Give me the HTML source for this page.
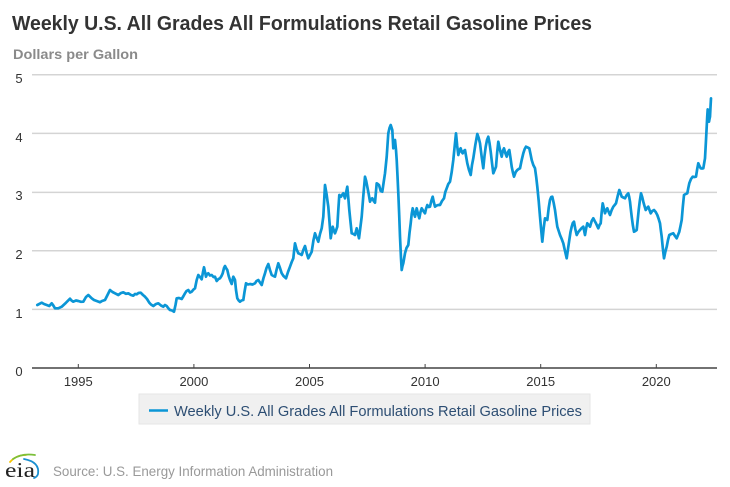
<!DOCTYPE html>
<html><head><meta charset="utf-8"><style>
html,body{margin:0;padding:0;background:#fff;}
svg{display:block;}
.s{font-family:"Liberation Sans",Arial,sans-serif;}
.serif{font-family:"Liberation Serif","DejaVu Serif",serif;}
</style></head><body>
<svg width="730" height="487" viewBox="0 0 730 487" xmlns="http://www.w3.org/2000/svg">
<rect width="730" height="487" fill="#fff"/>
<text class="s" x="12" y="30" font-size="20" font-weight="bold" fill="#333" textLength="580" lengthAdjust="spacingAndGlyphs">Weekly U.S. All Grades All Formulations Retail Gasoline Prices</text>
<text class="s" x="13" y="59" font-size="14" font-weight="bold" fill="#8a8a8a" textLength="125" lengthAdjust="spacingAndGlyphs">Dollars per Gallon</text>
<g stroke="#d4d4d4" stroke-width="1.5">
<line x1="32" y1="74.7" x2="717" y2="74.7"/>
<line x1="32" y1="133.4" x2="717" y2="133.4"/>
<line x1="32" y1="192.4" x2="717" y2="192.4"/>
<line x1="32" y1="250.7" x2="717" y2="250.7"/>
<line x1="32" y1="309.4" x2="717" y2="309.4"/>
</g>
<g class="s" font-size="13" fill="#333" text-anchor="middle">
<text x="19" y="83">5</text>
<text x="19" y="142">4</text>
<text x="19" y="200">3</text>
<text x="19" y="259">2</text>
<text x="19" y="318">1</text>
<text x="19" y="376">0</text>
<text x="78.3" y="386">1995</text>
<text x="193.9" y="386">2000</text>
<text x="309.5" y="386">2005</text>
<text x="425.1" y="386">2010</text>
<text x="540.7" y="386">2015</text>
<text x="656.3" y="386">2020</text>
</g>
<line x1="32" y1="368" x2="717" y2="368" stroke="#444" stroke-width="1.5"/>
<g stroke="#444" stroke-width="1">
<line x1="78.3" y1="364" x2="78.3" y2="368"/>
<line x1="193.9" y1="364" x2="193.9" y2="368"/>
<line x1="309.5" y1="364" x2="309.5" y2="368"/>
<line x1="425.1" y1="364" x2="425.1" y2="368"/>
<line x1="540.7" y1="364" x2="540.7" y2="368"/>
<line x1="656.3" y1="364" x2="656.3" y2="368"/>
</g>
<polyline fill="none" stroke="#0b96d6" stroke-width="2.7" stroke-linejoin="round" stroke-linecap="round" points="
37.3,305 41.7,302.7 44,304 46.7,305 49.3,306 51.7,303.3 53,305 55,308.3 58.3,308.3 61.7,306.7 66,302.7 70,298.7 71.5,300.5 73.3,301.7 76,300.5 78.3,301 81,301.8 83.3,301.7 86,297 88.3,295 91.7,298.3 94,300 96.7,301 100,302.3 102,301 105,300 107,296 110,290 112.5,292 115,293.3 118.3,295 121,293 123.3,292.3 126,293.8 128.3,293.3 131,295 133.3,295.7 135,294 136.7,294.3 138.5,293 140.7,292.7 143,295 145,296.7 147,299 149.3,302.7 151,304.5 153.3,306 156,304 158.3,303.3 161,305.5 163.3,306.7 165,305 166.7,306 168.5,308.5 170,310 172,310.5 174,311.7 175.5,305 176.7,298.3 179,298 181.7,299 183.5,296 185,293.3 186.5,291 188.3,290 190,292.5 191.7,291.7 193.5,289.5 195,288.3 196.7,280 198.3,275 200,277 201.7,279.3 203,272 204,267.3 205,272 206,276.7 207,274 208.3,273.3 210,275.5 211.7,275 213.5,277 215,276.7 216.7,281 218.5,279 220,278.3 221.5,276 222.7,273.3 224,268 225,266 226,268 227.3,270 228.7,276 230,280 231.7,284 232.5,280 233.3,276.7 234,278 235,280 236,290 237.3,298.3 238.7,300.5 240,301.7 241.5,300.5 243.3,300 244.5,292 246,283.3 248,284.5 250,284 252.5,284.5 255,283.3 256.5,281 258.3,280 260,282.5 261.7,285 263.5,278 265,273.3 266.5,268 268.3,264 270,270 271.7,275 273.5,276 275,276.7 276.5,270 278.3,263.3 280,268 281.7,273.3 283.5,276 286,278.3 288,272 290,266.7 291.7,262 293.3,258.3 294.2,250 295,243.3 296.5,249 298.3,253.3 300,254 301.7,255 303.3,250 305,246 306.7,253 308.3,258.3 310,255 311.7,251.7 313.5,240 315,233.3 316.7,238 318.3,241.7 320,234 321.7,228.3 323.3,216.7 324.2,200 325,185 326.7,195 327.5,201 328.3,206.7 329.5,222 330.7,238.3 331.7,232 332.7,226.7 334,231 335,233.3 336.2,230 337.3,226.7 338.3,210 339.3,195 341,196.7 342,195 343.3,193.3 345,198.3 346.2,192 347.3,186.7 348.3,198 349.3,210 350.5,222 351.7,233.3 353.5,234 355,235 356.7,228.3 358,234 359,238.3 360.3,228 361.7,216.7 363.3,196 365,176.7 366.2,181 367.3,186.7 368.7,194 370,201.7 371.2,199 372.3,198.3 373.7,201 375,202.7 376.7,183.3 377.8,184 379,185 380.7,191 382.3,191.7 383.7,182 385,173.3 386.7,156.7 388.3,133.3 389.5,128 390.7,125 392.3,130 393.3,148.3 394.2,144 395,140 396,150 396.7,160 397.5,176 398.3,193.3 399.2,215 400,236.7 401,258 401.7,270 402.5,266 403.3,263.3 404.2,258 405,253.3 406.5,248 408.3,245 409.5,233 410.7,223.3 411.7,214 412.7,208.3 413.8,213 415,216.7 416.7,208.3 418,214 419.3,218.3 420.5,212 421.7,208.3 423.3,211 425,213.3 426,209 427.3,205 428.7,207 430,206.7 431.3,201 432.7,196.7 433.8,202 435,206.7 436.7,205.5 438.3,205 440,205 442,201 444,198.3 445.3,192 446.7,188.3 448.3,184 450,181.7 451.7,172 453.3,160 454.7,146 456,133.3 457.2,146 458.3,155 459.5,150 460.7,148.3 461.7,152 462.7,153.3 463.8,151 465,150 466.2,157 467.3,163.3 469,170 470.7,175 472,165 473.3,158.3 475.3,145 477.3,134 478.7,138 480,143.3 481.7,157 483.3,168.3 484.5,156 485.7,146.7 487,140 488.3,136.7 489.5,143 490.7,151.7 492,163 493.3,173.3 494.7,170 496,166.7 497.2,152 498.3,141.7 500,150 501.7,156.7 502.8,151 504,148.3 505.3,153 506.7,156.7 508,152 509.3,150 510.5,158 511.7,166.7 512.8,172 514,176.7 515.7,172 517.3,170 518.7,169 520,168.3 521.7,160 523.3,153.3 524.7,149 526,146.7 527.7,147.5 529.3,148.3 530.5,154 531.7,160 533.3,165 535,168.3 536.2,177 537.3,186.7 538.7,201 540,216.7 541.2,230 542.3,241.7 543.7,228 545,218.3 546.2,219 547.3,220 548.7,208 550,200 551.2,197 552.3,196.7 553.7,203 555,210 556.2,219 557.3,226.7 558.7,231 560,235 561.7,239 563.3,243.3 565,251 566.7,258.3 568,249 569.3,240 570.5,232 571.7,226.7 572.8,223 574,221.7 575.3,229 576.7,235 578.3,232 580,230 581.7,228 583.3,226.7 584.2,231 585,235 586.2,228 587.3,223.3 588.7,225 590,226.7 591.7,221 593.3,218.3 594.7,221 596,223.3 597.2,226 598.3,228.3 599.5,225 600.7,223.3 601.7,212 602.7,203.3 603.8,208 605,213.3 606.2,210 607.3,208.3 608.7,212 610,215 611.7,210 613.3,206.7 614.7,205 616,203.3 617.7,196 619.3,190 620.5,193 621.7,196.7 623.3,197.5 625,198.3 626.7,195 628.3,193.3 629.2,197 630,201.7 630.8,209 631.7,216.7 632.8,225 634,231.7 635.3,231 636.7,230 637.7,220 638.7,210 639.8,201 641,193.3 642.2,197 643.3,201.7 644.5,206 645.7,210 647,208 648.3,206.7 649.5,210 650.7,213.3 652.3,211 654,210 655.7,212 657.3,215 658.7,219 660,223.3 660.8,230 661.7,236.7 662.8,248 664,258.3 665.3,252 666.7,246.7 668,240 669.3,235 671.3,234 673.3,233.3 675,236 676.7,238.3 678,235 679.3,231.7 680.5,226 681.7,220 682.8,207 684,195 685.7,194 687.3,193.3 688.3,188 689.3,183.3 691,179 692.7,176.7 694.3,177 696,176.7 697.2,169 698.3,163.3 699.5,166 700.7,168.3 702,168.5 703.3,168.3 704.2,163 705,158.3 705.9,142 706.7,126.7 707.2,117 707.7,109.3 708.3,116 709,121.7 709.5,119 710,116.7 710.5,107 711,98.3"/>
<rect x="139" y="394" width="451" height="30" fill="#f0f0f0" stroke="#e6e6e6" stroke-width="1"/>
<line x1="149" y1="410.5" x2="168" y2="410.5" stroke="#0b96d6" stroke-width="2.6"/>
<text class="s" x="174" y="416" font-size="15" fill="#2d4e73" textLength="408" lengthAdjust="spacingAndGlyphs">Weekly U.S. All Grades All Formulations Retail Gasoline Prices</text>
<g fill="none" stroke-width="1.8" stroke-linecap="round">
<path d="M10,462 Q16,455 26,455" stroke="#f5c400"/>
<path d="M13,459 Q22,453 35,455" stroke="#7bbf3a"/>
<path d="M24,459 Q40,462 38,474 Q37,477 34,478" stroke="#1a8fd0"/>
</g>
<text class="serif" x="5" y="477" font-size="21" fill="#222" textLength="30" lengthAdjust="spacingAndGlyphs">eia</text>
<text class="s" x="53" y="476" font-size="14" fill="#999" textLength="280" lengthAdjust="spacingAndGlyphs">Source: U.S. Energy Information Administration</text>
</svg>
</body></html>
